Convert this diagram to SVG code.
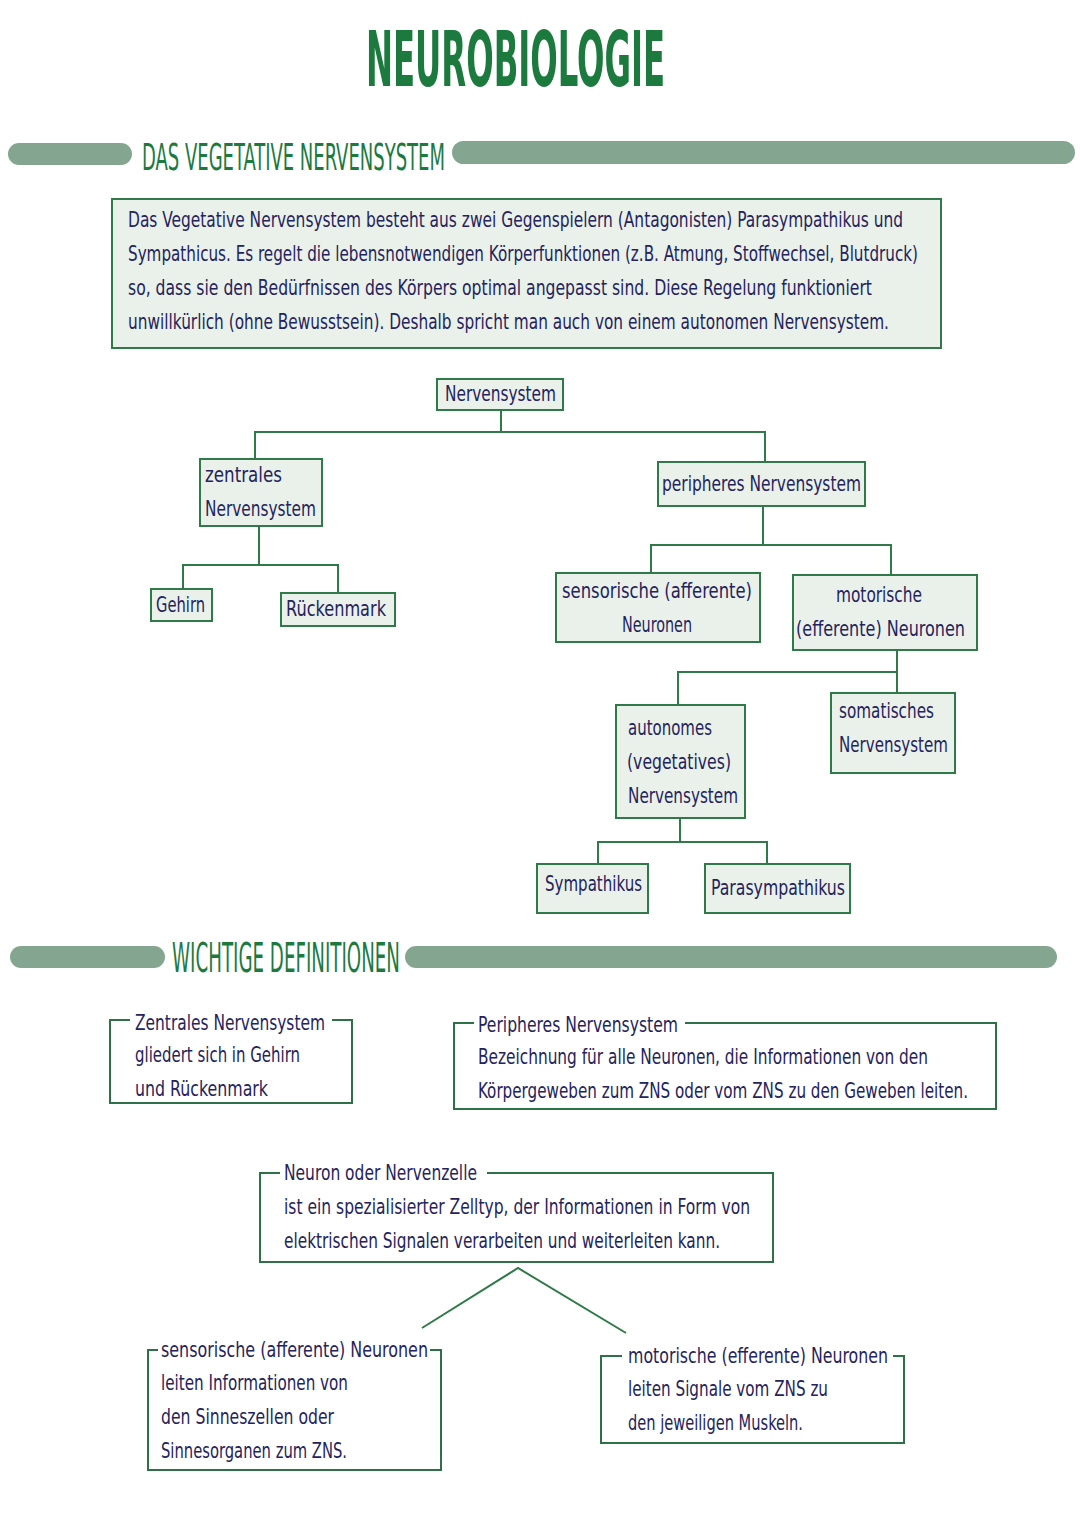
<svg xmlns="http://www.w3.org/2000/svg" width="1080" height="1527" viewBox="0 0 1080 1527">
<style>
.t{font-family:"Liberation Sans Narrow","DejaVu Sans Condensed","Liberation Sans",sans-serif;fill:#25235c;font-size:21px}
.h{font-family:"Liberation Sans Narrow","DejaVu Sans Condensed","Liberation Sans",sans-serif;fill:#1d7a3f}
.bar{fill:#84a690}
.node{fill:#eaf1ea;stroke:#2f7a48;stroke-width:2}
.def{fill:none;stroke:#2f7048;stroke-width:2}
.con{fill:none;stroke:#2f7a48;stroke-width:2}
</style>
<rect width="1080" height="1527" fill="#ffffff"/>
<g id="title">
<text class="h" x="366" y="86" font-size="76" font-weight="bold" textLength="299" lengthAdjust="spacingAndGlyphs" fill="#147a36">NEUROBIOLOGIE</text>
</g>
<g id="section1">
<rect class="bar" x="8" y="143" width="124" height="22" rx="11"/>
<text class="h" x="142" y="170" font-size="38" textLength="303" lengthAdjust="spacingAndGlyphs">DAS VEGETATIVE NERVENSYSTEM</text>
<rect class="bar" x="452" y="141" width="623" height="23" rx="11.5"/>
</g>
<g id="intro">
<rect class="node" x="112" y="199" width="829" height="149"/>
<text class="t" x="128" y="227" textLength="775" lengthAdjust="spacingAndGlyphs">Das Vegetative Nervensystem besteht aus zwei Gegenspielern (Antagonisten) Parasympathikus und</text>
<text class="t" x="128" y="261" font-size="20" textLength="790" lengthAdjust="spacingAndGlyphs">Sympathicus. Es regelt die lebensnotwendigen Körperfunktionen (z.B. Atmung, Stoffwechsel, Blutdruck)</text>
<text class="t" x="128" y="295" textLength="744" lengthAdjust="spacingAndGlyphs">so, dass sie den Bedürfnissen des Körpers optimal angepasst sind. Diese Regelung funktioniert</text>
<text class="t" x="128" y="329" textLength="761" lengthAdjust="spacingAndGlyphs">unwillkürlich (ohne Bewusstsein). Deshalb spricht man auch von einem autonomen Nervensystem.</text>
</g>
<g id="connectors">
<polyline class="con" points="501,410 501,432"/>
<polyline class="con" points="255,459 255,432 765,432 765,462"/>
<polyline class="con" points="259,526 259,565"/>
<polyline class="con" points="183,589 183,565 338,565 338,593"/>
<polyline class="con" points="763,506 763,545"/>
<polyline class="con" points="651,573 651,545 891,545 891,575"/>
<polyline class="con" points="897,650 897,693"/>
<polyline class="con" points="678,705 678,672 897,672"/>
<polyline class="con" points="680,818 680,842"/>
<polyline class="con" points="598,864 598,842 767,842 767,864"/>
<polyline class="con" points="422,1328 518,1268 626,1333"/>
</g>
<g id="n-nervensystem">
<rect class="node" x="437" y="379" width="126" height="31"/>
<text class="t" x="445" y="401" textLength="111" lengthAdjust="spacingAndGlyphs">Nervensystem</text>
</g>
<g id="n-zns">
<rect class="node" x="200" y="459" width="122" height="67"/>
<text class="t" x="205" y="482" textLength="77" lengthAdjust="spacingAndGlyphs">zentrales</text>
<text class="t" x="205" y="516" textLength="111" lengthAdjust="spacingAndGlyphs">Nervensystem</text>
</g>
<g id="n-pns">
<rect class="node" x="658" y="462" width="207" height="44"/>
<text class="t" x="662" y="491" textLength="199" lengthAdjust="spacingAndGlyphs">peripheres Nervensystem</text>
</g>
<g id="n-gehirn">
<rect class="node" x="151" y="589" width="61" height="32"/>
<text class="t" x="156" y="612" textLength="49" lengthAdjust="spacingAndGlyphs">Gehirn</text>
</g>
<g id="n-rueckenmark">
<rect class="node" x="281" y="593" width="114" height="33"/>
<text class="t" x="286" y="616" textLength="100" lengthAdjust="spacingAndGlyphs">Rückenmark</text>
</g>
<g id="n-sensorisch">
<rect class="node" x="556" y="573" width="204" height="69"/>
<text class="t" x="562" y="598" textLength="190" lengthAdjust="spacingAndGlyphs">sensorische (afferente)</text>
<text class="t" x="622" y="632" textLength="70" lengthAdjust="spacingAndGlyphs">Neuronen</text>
</g>
<g id="n-motorisch">
<rect class="node" x="793" y="575" width="184" height="75"/>
<text class="t" x="836" y="602" textLength="86" lengthAdjust="spacingAndGlyphs">motorische</text>
<text class="t" x="796" y="636" textLength="169" lengthAdjust="spacingAndGlyphs">(efferente) Neuronen</text>
</g>
<g id="n-autonom">
<rect class="node" x="616" y="705" width="129" height="113"/>
<text class="t" x="628" y="735" textLength="84" lengthAdjust="spacingAndGlyphs">autonomes</text>
<text class="t" x="627" y="769" textLength="104" lengthAdjust="spacingAndGlyphs">(vegetatives)</text>
<text class="t" x="628" y="803" textLength="110" lengthAdjust="spacingAndGlyphs">Nervensystem</text>
</g>
<g id="n-somatisch">
<rect class="node" x="831" y="693" width="124" height="80"/>
<text class="t" x="839" y="718" textLength="95" lengthAdjust="spacingAndGlyphs">somatisches</text>
<text class="t" x="839" y="752" textLength="109" lengthAdjust="spacingAndGlyphs">Nervensystem</text>
</g>
<g id="n-sympathikus">
<rect class="node" x="537" y="864" width="111" height="49"/>
<text class="t" x="545" y="891" textLength="97" lengthAdjust="spacingAndGlyphs">Sympathikus</text>
</g>
<g id="n-parasympathikus">
<rect class="node" x="705" y="864" width="145" height="49"/>
<text class="t" x="711" y="895" textLength="134" lengthAdjust="spacingAndGlyphs">Parasympathikus</text>
</g>
<g id="section2">
<rect class="bar" x="10" y="946" width="155" height="22" rx="11"/>
<text class="h" x="172" y="972" font-size="40" textLength="228" lengthAdjust="spacingAndGlyphs">WICHTIGE DEFINITIONEN</text>
<rect class="bar" x="405" y="946" width="652" height="22" rx="11"/>
</g>
<g id="d-zns">
<polyline class="def" points="130,1020 110,1020 110,1103 352,1103 352,1020 332,1020"/>
<text class="t" x="135" y="1030" textLength="190" lengthAdjust="spacingAndGlyphs">Zentrales Nervensystem</text>
<text class="t" x="135" y="1062" textLength="165" lengthAdjust="spacingAndGlyphs">gliedert sich in Gehirn</text>
<text class="t" x="135" y="1096" textLength="133" lengthAdjust="spacingAndGlyphs">und Rückenmark</text>
</g>
<g id="d-pns">
<polyline class="def" points="474,1023 454,1023 454,1109 996,1109 996,1023 685,1023"/>
<text class="t" x="478" y="1032" textLength="200" lengthAdjust="spacingAndGlyphs">Peripheres Nervensystem</text>
<text class="t" x="478" y="1064" textLength="450" lengthAdjust="spacingAndGlyphs">Bezeichnung für alle Neuronen, die Informationen von den</text>
<text class="t" x="478" y="1098" font-size="20" textLength="490" lengthAdjust="spacingAndGlyphs">Körpergeweben zum ZNS oder vom ZNS zu den Geweben leiten.</text>
</g>
<g id="d-neuron">
<polyline class="def" points="280,1173 260,1173 260,1262 773,1262 773,1173 487,1173"/>
<text class="t" x="284" y="1180" textLength="193" lengthAdjust="spacingAndGlyphs">Neuron oder Nervenzelle</text>
<text class="t" x="284" y="1214" textLength="466" lengthAdjust="spacingAndGlyphs">ist ein spezialisierter Zelltyp, der Informationen in Form von</text>
<text class="t" x="284" y="1248" textLength="436" lengthAdjust="spacingAndGlyphs">elektrischen Signalen verarbeiten und weiterleiten kann.</text>
</g>
<g id="d-sensorisch">
<polyline class="def" points="158,1350 148,1350 148,1470 441,1470 441,1350 430,1350"/>
<text class="t" x="161" y="1357" textLength="267" lengthAdjust="spacingAndGlyphs">sensorische (afferente) Neuronen</text>
<text class="t" x="161" y="1390" textLength="187" lengthAdjust="spacingAndGlyphs">leiten Informationen von</text>
<text class="t" x="161" y="1424" textLength="173" lengthAdjust="spacingAndGlyphs">den Sinneszellen oder</text>
<text class="t" x="161" y="1458" textLength="186" lengthAdjust="spacingAndGlyphs">Sinnesorganen zum ZNS.</text>
</g>
<g id="d-motorisch">
<polyline class="def" points="622,1356 601,1356 601,1443 904,1443 904,1356 893,1356"/>
<text class="t" x="628" y="1363" textLength="260" lengthAdjust="spacingAndGlyphs">motorische (efferente) Neuronen</text>
<text class="t" x="628" y="1396" textLength="200" lengthAdjust="spacingAndGlyphs">leiten Signale vom ZNS zu</text>
<text class="t" x="628" y="1430" textLength="175" lengthAdjust="spacingAndGlyphs">den jeweiligen Muskeln.</text>
</g>
</svg>
